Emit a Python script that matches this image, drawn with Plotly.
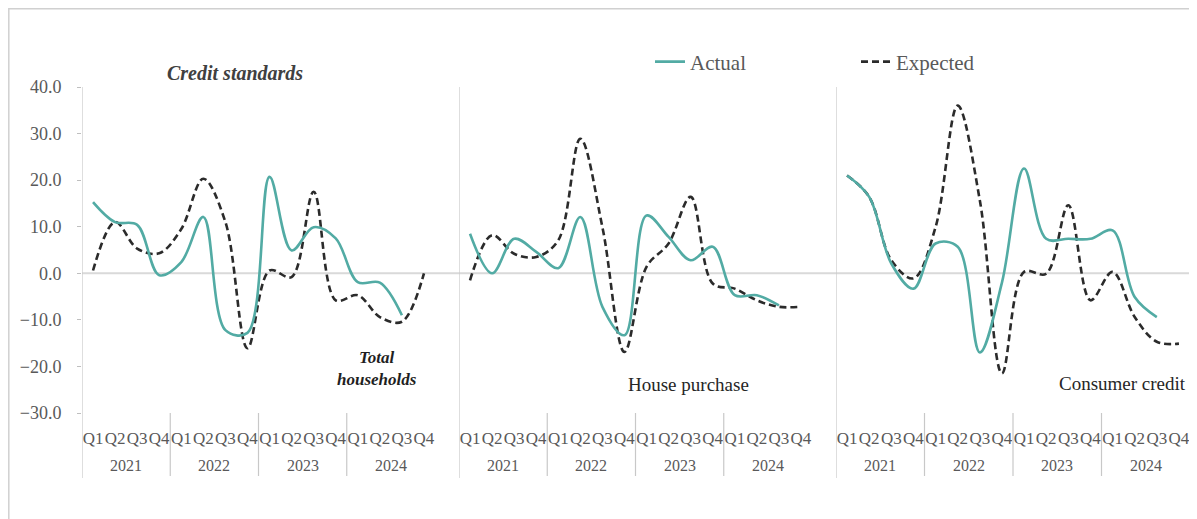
import plotly.graph_objects as go

# page body has an 8px margin, so the figure is drawn slightly smaller and offset
OFF = 8
W, H = 1197 - OFF, 519 - OFF

quarters = ["Q1", "Q2", "Q3", "Q4"] * 4
years = ["2021", "2022", "2023", "2024"]

# Total households
total_actual = [15.3, 11.0, 10.4, -0.4, 2.4, 12.1, -12.2, -12.8, 20.7, 4.9, 9.9, 7.5, -1.9, -2.0, -9.0]
total_expected = [0.6, 11.0, 5.3, 4.3, 9.5, 20.3, 11.0, -16.1, 0.6, -0.8, 17.5, -5.8, -4.7, -9.4, -10.4, 0.0]

# House purchase
house_actual = [8.5, 0.0, 7.4, 4.6, 1.1, 12.1, -7.2, -13.3, 12.4, 7.8, 2.8, 5.7, -4.7, -4.7, -6.9]
house_expected = [-1.5, 8.2, 4.2, 3.5, 7.1, 28.9, 9.9, -16.9, 1.4, 6.4, 16.4, -2.2, -3.3, -5.8, -7.2, -7.2]

# Consumer credit
consumer_actual = [21.0, 16.4, 2.1, -3.3, 6.4, 5.7, -17.0, -2.0, 22.5, 7.4, 7.4, 7.4, 9.2, -5.1, -9.4]
consumer_expected = [21.0, 16.4, 2.8, -1.1, 9.9, 36.0, 15.7, -21.5, 0.3, -0.1, 14.6, -5.8, 0.3, -9.4, -14.7, -15.1]

panels = [
    ("x", total_actual, total_expected),
    ("x2", house_actual, house_expected),
    ("x3", consumer_actual, consumer_expected),
]

TEAL = "#52ABA4"
DARK = "#2b2b2b"
GRID = "#d9d9d9"
TXT = "#595959"
FONT = "Liberation Serif"


def px_x(p):
    return (p - OFF) / W


def px_y(p):
    return 1 - (p - OFF) / H


fig = go.Figure()
for i, (xa, act, exp) in enumerate(panels):
    fig.add_trace(go.Scatter(
        x=list(range(len(exp))), y=exp, xaxis=xa, yaxis="y", mode="lines",
        name="Expected", showlegend=(i == 0), legendrank=2,
        line=dict(color=DARK, width=2.6, dash="7px,4px", shape="spline", smoothing=1),
    ))
    fig.add_trace(go.Scatter(
        x=list(range(len(act))), y=act, xaxis=xa, yaxis="y", mode="lines",
        name="Actual", showlegend=(i == 0), legendrank=1,
        line=dict(color=TEAL, width=2.6, shape="spline", smoothing=1),
    ))

domains = [(82, 435), (459, 812), (836, 1190)]
xax = dict(
    range=[-0.5, 15.5], tickmode="array", tickvals=list(range(16)), ticktext=quarters,
    showgrid=False, zeroline=False, showline=False, ticks="", tickangle=0,
    automargin=False, ticklabelstandoff=13,
    tickfont=dict(family=FONT, size=17, color=TXT), anchor="y", fixedrange=True,
)
fig.update_layout(
    xaxis=dict(domain=[px_x(domains[0][0]), px_x(domains[0][1])], **xax),
    xaxis2=dict(domain=[px_x(domains[1][0]), px_x(domains[1][1])], **xax),
    xaxis3=dict(domain=[px_x(domains[2][0]), px_x(domains[2][1])], **xax),
    yaxis=dict(
        domain=[px_y(413), px_y(87)], range=[-30, 40], dtick=10, tickformat=".1f",
        showgrid=False, zeroline=False, showline=False, ticks="outside", ticklen=4,
        tickcolor="#bfbfbf", ticklabelstandoff=12, automargin=False,
        tickfont=dict(family=FONT, size=18, color=TXT),
    ),
)

shapes = [
    # frame (top and left edges visible)
    dict(type="rect", xref="paper", yref="paper", x0=px_x(8.8), y0=px_y(8.8), x1=px_x(1215), y1=px_y(540),
         line=dict(color="#d0d0d0", width=1.5)),
    # zero line across all panels
    dict(type="line", xref="paper", yref="y", x0=px_x(82), x1=px_x(1190), y0=0, y1=0,
         line=dict(color=GRID, width=2), layer="below"),
]
for xa in ["x", "x2", "x3"]:
    shapes.append(dict(type="line", xref=xa, yref="paper", x0=-0.5, x1=-0.5,
                       y0=px_y(87), y1=px_y(478), line=dict(color="#c8c8c8", width=1.2)))
    for b in [3.5, 7.5, 11.5]:
        shapes.append(dict(type="line", xref=xa, yref="paper", x0=b, x1=b,
                           y0=px_y(413), y1=px_y(476), line=dict(color="#c8c8c8", width=1.2)))
shapes.append(dict(type="line", xref="x3", yref="paper", x0=15.5, x1=15.5,
                   y0=px_y(413), y1=px_y(476), line=dict(color="#c8c8c8", width=1.2)))

annotations = []
for xa in ["x", "x2", "x3"]:
    for k, yr in enumerate(years):
        annotations.append(dict(xref=xa, yref="paper", x=1.5 + 4 * k, y=px_y(465), text=yr,
                                xanchor="center", yanchor="middle", showarrow=False,
                                font=dict(family=FONT, size=16, color=TXT)))

labels = [
    (235, 73, "<b><i>Credit standards</i></b>", 20, "#404040"),
    (377, 368, "<b><i>Total<br>households</i></b>", 17, "#1f1f1f"),
    (688, 384, "House purchase", 19, "#262626"),
    (1122, 383, "Consumer credit", 19, "#262626"),
]
for lx, ly, txt, size, col in labels:
    annotations.append(dict(xref="paper", yref="paper", x=px_x(lx), y=px_y(ly), text=txt,
                            xanchor="center", yanchor="middle", showarrow=False,
                            font=dict(family=FONT, size=size, color=col)))

fig.update_layout(
    width=W, height=H,
    margin=dict(l=0, r=0, t=0, b=0, autoexpand=False),
    paper_bgcolor="white", plot_bgcolor="rgba(0,0,0,0)",
    shapes=shapes, annotations=annotations,
    showlegend=True,
    legend=dict(
        orientation="h", x=px_x(650), xanchor="left", y=px_y(62), yanchor="middle",
        font=dict(family=FONT, size=21, color=TXT), entrywidth=161, entrywidthmode="pixels",
        bgcolor="rgba(0,0,0,0)", traceorder="normal",
    ),
)

fig.write_html("out.html")
